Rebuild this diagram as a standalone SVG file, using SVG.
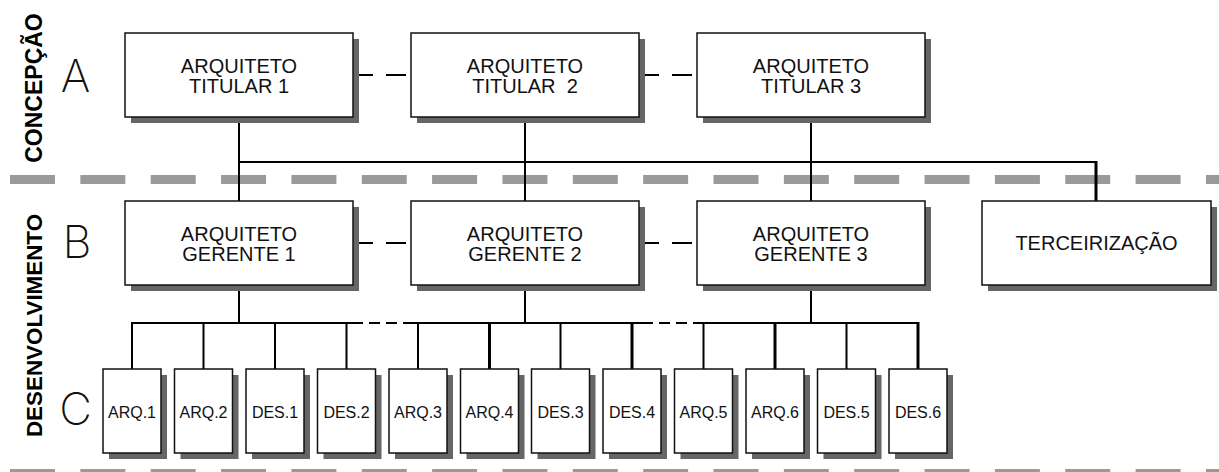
<svg xmlns="http://www.w3.org/2000/svg" width="1219" height="472" viewBox="0 0 1219 472">
<defs>
<style>
.sep{stroke:#9a9a9a;stroke-width:9;stroke-dasharray:45 25.35;fill:none}
.ln{stroke:#000;stroke-width:2;fill:none}
.lnb{stroke:#000;stroke-width:3;fill:none}
.dl{stroke:#000;stroke-width:2;stroke-dasharray:20 13;fill:none}
.ds{stroke:#000;stroke-width:2;stroke-dasharray:11 6;fill:none}
.sh{fill:#666}
.bx{fill:#fff;stroke:#111;stroke-width:1.5}
.t{font-family:"Liberation Sans",Arial,sans-serif;font-size:20px;fill:#111;text-anchor:middle}
.ts{font-family:"Liberation Sans",Arial,sans-serif;font-size:16px;fill:#111;text-anchor:middle}
.big{font-family:Inter,"Liberation Sans",sans-serif;font-weight:200;font-size:45px;fill:#111;text-anchor:middle}
.side{font-family:"Liberation Sans",Arial,sans-serif;font-weight:bold;fill:#000;text-anchor:middle}
</style>
</defs>
<rect width="1219" height="472" fill="#fff"/>
<!-- separators -->
<g id="separators">
<line class="sep" x1="10" y1="179.5" x2="1219" y2="179.5"/>
<line class="sep" x1="10" y1="473.5" x2="1219" y2="473.5"/>
</g>
<!-- side labels -->
<g id="labels">
<text class="side" font-size="23" transform="translate(42,88) rotate(-90)">CONCEPÇÃO</text>
<text class="side" font-size="22.4" transform="translate(42,325.5) rotate(-90)">DESENVOLVIMENTO</text>
<text class="big" x="75.5" y="92">A</text>
<text class="big" x="77" y="258">B</text>
<text class="big" x="75.5" y="425">C</text>
</g>
<!-- connectors -->
<g id="connectors">
<line class="dl" x1="353" y1="75" x2="411" y2="75"/>
<line class="dl" x1="639" y1="75" x2="697" y2="75"/>
<line class="dl" x1="353" y1="243" x2="411" y2="243"/>
<line class="dl" x1="639" y1="243" x2="697" y2="243"/>
<line class="ln" x1="239" y1="117" x2="239" y2="201"/>
<line class="ln" x1="525" y1="117" x2="525" y2="201"/>
<line class="ln" x1="811" y1="117" x2="811" y2="201"/>
<path class="ln" d="M239 162 H1096"/>
<line class="lnb" x1="1096" y1="161" x2="1096" y2="201"/>
<line class="ln" x1="239" y1="285" x2="239" y2="323"/>
<line class="ln" x1="525" y1="285" x2="525" y2="323"/>
<line class="ln" x1="811" y1="285" x2="811" y2="323"/>
<path class="ln" d="M131 323 H352"/>
<path class="ds" d="M352 323 H412"/>
<path class="ln" d="M412 323 H642"/>
<path class="ds" d="M642 323 H697"/>
<path class="ln" d="M697 323 H918"/>
<line class="ln" x1="132" y1="323" x2="132" y2="369"/>
<line class="ln" x1="203.5" y1="323" x2="203.5" y2="369"/>
<line class="ln" x1="275" y1="323" x2="275" y2="369"/>
<line class="ln" x1="346.5" y1="323" x2="346.5" y2="369"/>
<line class="ln" x1="418" y1="323" x2="418" y2="369"/>
<line class="lnb" x1="489.5" y1="323" x2="489.5" y2="369"/>
<line class="ln" x1="560.5" y1="323" x2="560.5" y2="369"/>
<line class="lnb" x1="632" y1="323" x2="632" y2="369"/>
<line class="ln" x1="703.5" y1="323" x2="703.5" y2="369"/>
<line class="lnb" x1="775" y1="323" x2="775" y2="369"/>
<line class="ln" x1="846.5" y1="323" x2="846.5" y2="369"/>
<line class="lnb" x1="918" y1="322" x2="918" y2="369"/>
</g>
<!-- row A -->
<g id="titular1"><rect class="sh" x="131" y="39" width="228" height="84"/><rect class="bx" x="125" y="33" width="228" height="84"/><text class="t" x="239" y="72.7">ARQUITETO</text><text class="t" x="239" y="93.3">TITULAR 1</text></g>
<g id="titular2"><rect class="sh" x="417" y="39" width="228" height="84"/><rect class="bx" x="411" y="33" width="228" height="84"/><text class="t" x="525" y="72.7">ARQUITETO</text><text class="t" x="525" y="93.3" xml:space="preserve">TITULAR  2</text></g>
<g id="titular3"><rect class="sh" x="703" y="39" width="228" height="84"/><rect class="bx" x="697" y="33" width="228" height="84"/><text class="t" x="811" y="72.7">ARQUITETO</text><text class="t" x="811" y="93.3">TITULAR 3</text></g>
<!-- row B -->
<g id="gerente1"><rect class="sh" x="131" y="207" width="228" height="84"/><rect class="bx" x="125" y="201" width="228" height="84"/><text class="t" x="239" y="241">ARQUITETO</text><text class="t" x="239" y="261">GERENTE 1</text></g>
<g id="gerente2"><rect class="sh" x="417" y="207" width="228" height="84"/><rect class="bx" x="411" y="201" width="228" height="84"/><text class="t" x="525" y="241">ARQUITETO</text><text class="t" x="525" y="261">GERENTE 2</text></g>
<g id="gerente3"><rect class="sh" x="703" y="207" width="228" height="84"/><rect class="bx" x="697" y="201" width="228" height="84"/><text class="t" x="811" y="241">ARQUITETO</text><text class="t" x="811" y="261">GERENTE 3</text></g>
<g id="terceirizacao"><rect class="sh" x="988" y="207" width="229" height="84"/><rect class="bx" x="982" y="201" width="229" height="84"/><text class="t" x="1096.5" y="250">TERCEIRIZAÇÃO</text></g>
<!-- row C -->
<g id="arq1"><rect class="sh" x="109" y="375" width="58" height="84"/><rect class="bx" x="103" y="369" width="58" height="84"/><text class="ts" x="132" y="418">ARQ.1</text></g>
<g id="arq2"><rect class="sh" x="180.5" y="375" width="58" height="84"/><rect class="bx" x="174.5" y="369" width="58" height="84"/><text class="ts" x="203.5" y="418">ARQ.2</text></g>
<g id="des1"><rect class="sh" x="252" y="375" width="58" height="84"/><rect class="bx" x="246" y="369" width="58" height="84"/><text class="ts" x="275" y="418">DES.1</text></g>
<g id="des2"><rect class="sh" x="323.5" y="375" width="58" height="84"/><rect class="bx" x="317.5" y="369" width="58" height="84"/><text class="ts" x="346.5" y="418">DES.2</text></g>
<g id="arq3"><rect class="sh" x="395" y="375" width="58" height="84"/><rect class="bx" x="389" y="369" width="58" height="84"/><text class="ts" x="418" y="418">ARQ.3</text></g>
<g id="arq4"><rect class="sh" x="466.5" y="375" width="58" height="84"/><rect class="bx" x="460.5" y="369" width="58" height="84"/><text class="ts" x="489.5" y="418">ARQ.4</text></g>
<g id="des3"><rect class="sh" x="537.5" y="375" width="58" height="84"/><rect class="bx" x="531.5" y="369" width="58" height="84"/><text class="ts" x="560.5" y="418">DES.3</text></g>
<g id="des4"><rect class="sh" x="609" y="375" width="58" height="84"/><rect class="bx" x="603" y="369" width="58" height="84"/><text class="ts" x="632" y="418">DES.4</text></g>
<g id="arq5"><rect class="sh" x="680.5" y="375" width="58" height="84"/><rect class="bx" x="674.5" y="369" width="58" height="84"/><text class="ts" x="703.5" y="418">ARQ.5</text></g>
<g id="arq6"><rect class="sh" x="752" y="375" width="58" height="84"/><rect class="bx" x="746" y="369" width="58" height="84"/><text class="ts" x="775" y="418">ARQ.6</text></g>
<g id="des5"><rect class="sh" x="823.5" y="375" width="58" height="84"/><rect class="bx" x="817.5" y="369" width="58" height="84"/><text class="ts" x="846.5" y="418">DES.5</text></g>
<g id="des6"><rect class="sh" x="895" y="375" width="58" height="84"/><rect class="bx" x="889" y="369" width="58" height="84"/><text class="ts" x="918" y="418">DES.6</text></g>
</svg>
